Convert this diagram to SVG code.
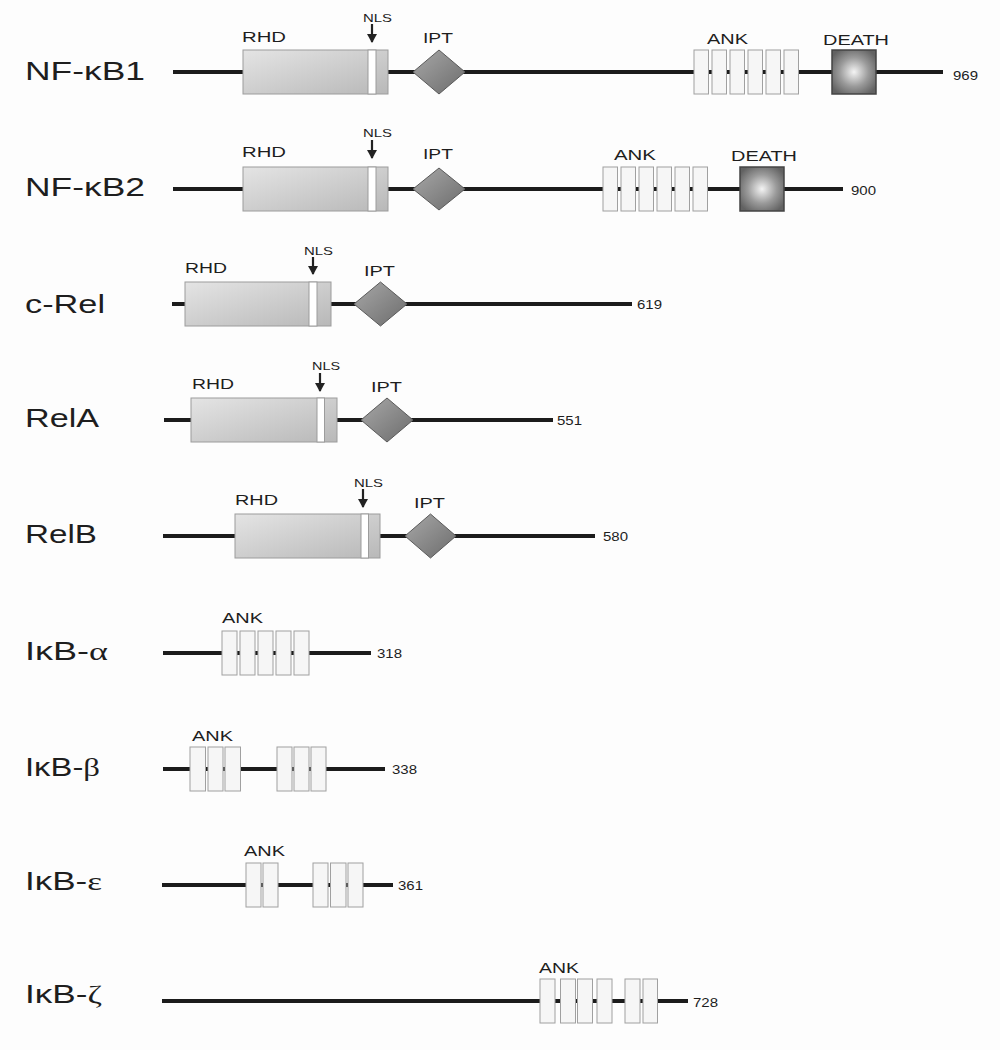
<svg xmlns="http://www.w3.org/2000/svg" width="1000" height="1050" viewBox="0 0 1000 1050">
<defs>
<linearGradient id="gRHD" x1="0" y1="0" x2="1" y2="1">
<stop offset="0" stop-color="#e4e4e4"/><stop offset="1" stop-color="#b8b8b8"/>
</linearGradient>
<linearGradient id="gIPT" x1="0" y1="0" x2="1" y2="1">
<stop offset="0" stop-color="#a8a8a8"/><stop offset="1" stop-color="#6c6c6c"/>
</linearGradient>
<radialGradient id="gDEATH" cx="0.5" cy="0.5" r="0.6">
<stop offset="0" stop-color="#f4f4f4"/><stop offset="0.55" stop-color="#9a9a9a"/><stop offset="1" stop-color="#626262"/>
</radialGradient>
<marker id="arrDown" markerUnits="userSpaceOnUse" markerWidth="10" markerHeight="10" refX="5" refY="9" orient="0" viewBox="0 0 10 10">
<path d="M0,1 L10,1 L5,10 Z" fill="#222"/>
</marker>
</defs>
<style>
.bb{stroke:#1c1c1c;stroke-width:4;fill:none}
.rhd{fill:url(#gRHD);stroke:#9c9c9c;stroke-width:1}
.nls{fill:#ffffff;stroke:#9c9c9c;stroke-width:1}
.ipt{fill:url(#gIPT);stroke:#5a5a5a;stroke-width:1}
.ank{fill:#f6f6f6;stroke:#a0a0a0;stroke-width:1}
.death{fill:url(#gDEATH);stroke:#444;stroke-width:1.5}
.arrow{stroke:#222;stroke-width:2.2;fill:none;marker-end:url(#arrDown)}
.name{font-family:"Liberation Sans",Arial,sans-serif;font-size:26px;fill:#1e1e1e}
.greek{font-family:"Liberation Serif","Times New Roman",serif}
.dom{font-family:"Liberation Sans",Arial,sans-serif;font-size:15px;fill:#1e1e1e}
.sm{font-family:"Liberation Sans",Arial,sans-serif;font-size:11.5px;fill:#1e1e1e}
.num{font-family:"Liberation Sans",Arial,sans-serif;font-size:13px;fill:#1e1e1e}
</style>
<rect x="0" y="0" width="1000" height="1050" fill="#fdfdfd"/>

<g id="backbones">
<line class="bb" x1="173" y1="72" x2="943" y2="72"/>
<line class="bb" x1="173" y1="189" x2="843" y2="189"/>
<line class="bb" x1="172" y1="304" x2="632" y2="304"/>
<line class="bb" x1="164" y1="420" x2="553" y2="420"/>
<line class="bb" x1="163" y1="536" x2="595" y2="536"/>
<line class="bb" x1="163" y1="653" x2="371" y2="653"/>
<line class="bb" x1="163" y1="769" x2="385" y2="769"/>
<line class="bb" x1="162" y1="885" x2="393" y2="885"/>
<line class="bb" x1="162" y1="1001" x2="688" y2="1001"/>
</g>

<g id="NF-kB1">
<text class="name" x="25" y="80" textLength="120" lengthAdjust="spacingAndGlyphs">NF-κB1</text>
<rect class="rhd" x="243" y="50" width="145" height="44"/>
<rect class="nls" x="368" y="50" width="8" height="44"/>
<text class="dom" x="242" y="42" textLength="44" lengthAdjust="spacingAndGlyphs">RHD</text>
<text class="sm" x="363" y="22" textLength="29" lengthAdjust="spacingAndGlyphs">NLS</text>
<line class="arrow" x1="372" y1="24" x2="372" y2="42"/>
<polygon class="ipt" points="413,72 439,50 465,72 439,94"/>
<text class="dom" x="423" y="43" textLength="30" lengthAdjust="spacingAndGlyphs">IPT</text>
<rect class="ank" x="694" y="50" width="14.5" height="44"/>
<rect class="ank" x="712" y="50" width="14.5" height="44"/>
<rect class="ank" x="730" y="50" width="14.5" height="44"/>
<rect class="ank" x="748" y="50" width="14.5" height="44"/>
<rect class="ank" x="766" y="50" width="14.5" height="44"/>
<rect class="ank" x="784" y="50" width="14.5" height="44"/>
<text class="dom" x="707" y="44" textLength="41" lengthAdjust="spacingAndGlyphs">ANK</text>
<rect class="death" x="832" y="50" width="44" height="44"/>
<text class="dom" x="823" y="45" textLength="66" lengthAdjust="spacingAndGlyphs">DEATH</text>
<text class="num" x="953" y="80" textLength="25" lengthAdjust="spacingAndGlyphs">969</text>
</g>

<g id="NF-kB2">
<text class="name" x="25" y="196" textLength="120" lengthAdjust="spacingAndGlyphs">NF-κB2</text>
<rect class="rhd" x="243" y="167" width="145" height="44"/>
<rect class="nls" x="368" y="167" width="8" height="44"/>
<text class="dom" x="242" y="157" textLength="44" lengthAdjust="spacingAndGlyphs">RHD</text>
<text class="sm" x="363" y="137" textLength="29" lengthAdjust="spacingAndGlyphs">NLS</text>
<line class="arrow" x1="372" y1="140" x2="372" y2="158"/>
<polygon class="ipt" points="413,189 439,168 465,189 439,210"/>
<text class="dom" x="423" y="159" textLength="30" lengthAdjust="spacingAndGlyphs">IPT</text>
<rect class="ank" x="603" y="167" width="14.5" height="44"/>
<rect class="ank" x="621" y="167" width="14.5" height="44"/>
<rect class="ank" x="639" y="167" width="14.5" height="44"/>
<rect class="ank" x="657" y="167" width="14.5" height="44"/>
<rect class="ank" x="675" y="167" width="14.5" height="44"/>
<rect class="ank" x="693" y="167" width="14.5" height="44"/>
<text class="dom" x="614" y="160" textLength="42" lengthAdjust="spacingAndGlyphs">ANK</text>
<rect class="death" x="740" y="167" width="44" height="44"/>
<text class="dom" x="731" y="161" textLength="66" lengthAdjust="spacingAndGlyphs">DEATH</text>
<text class="num" x="851" y="195" textLength="25" lengthAdjust="spacingAndGlyphs">900</text>
</g>

<g id="c-Rel">
<text class="name" x="25" y="313" textLength="80" lengthAdjust="spacingAndGlyphs">c-Rel</text>
<rect class="rhd" x="185" y="282" width="146" height="44"/>
<rect class="nls" x="309" y="282" width="8" height="44"/>
<text class="dom" x="185" y="273" textLength="42" lengthAdjust="spacingAndGlyphs">RHD</text>
<text class="sm" x="304" y="255" textLength="29" lengthAdjust="spacingAndGlyphs">NLS</text>
<line class="arrow" x1="313" y1="257" x2="313" y2="274"/>
<polygon class="ipt" points="354,304 380.5,282 407,304 380.5,326"/>
<text class="dom" x="364" y="276" textLength="31" lengthAdjust="spacingAndGlyphs">IPT</text>
<text class="num" x="637" y="309" textLength="25" lengthAdjust="spacingAndGlyphs">619</text>
</g>

<g id="RelA">
<text class="name" x="25" y="427" textLength="74" lengthAdjust="spacingAndGlyphs">RelA</text>
<rect class="rhd" x="191" y="398" width="146" height="44"/>
<rect class="nls" x="317" y="398" width="7.5" height="44"/>
<text class="dom" x="192" y="389" textLength="42" lengthAdjust="spacingAndGlyphs">RHD</text>
<text class="sm" x="312" y="370" textLength="28" lengthAdjust="spacingAndGlyphs">NLS</text>
<line class="arrow" x1="320" y1="373" x2="320" y2="391"/>
<polygon class="ipt" points="361,420 387,398 413,420 387,442"/>
<text class="dom" x="371" y="392" textLength="31" lengthAdjust="spacingAndGlyphs">IPT</text>
<text class="num" x="557" y="425" textLength="25" lengthAdjust="spacingAndGlyphs">551</text>
</g>

<g id="RelB">
<text class="name" x="25" y="543" textLength="72" lengthAdjust="spacingAndGlyphs">RelB</text>
<rect class="rhd" x="235" y="514" width="145" height="44"/>
<rect class="nls" x="361" y="514" width="7.5" height="44"/>
<text class="dom" x="235" y="505" textLength="43" lengthAdjust="spacingAndGlyphs">RHD</text>
<text class="sm" x="354" y="487" textLength="29" lengthAdjust="spacingAndGlyphs">NLS</text>
<line class="arrow" x1="363" y1="489" x2="363" y2="507"/>
<polygon class="ipt" points="405,536 430.5,514 456,536 430.5,558"/>
<text class="dom" x="414" y="508" textLength="31" lengthAdjust="spacingAndGlyphs">IPT</text>
<text class="num" x="603" y="541" textLength="25" lengthAdjust="spacingAndGlyphs">580</text>
</g>

<g id="IkB-alpha">
<text class="name" x="25" y="660" textLength="83" lengthAdjust="spacingAndGlyphs">IκB-<tspan class="greek">α</tspan></text>
<rect class="ank" x="222" y="631" width="15" height="44"/>
<rect class="ank" x="240" y="631" width="15" height="44"/>
<rect class="ank" x="258" y="631" width="15" height="44"/>
<rect class="ank" x="276" y="631" width="15" height="44"/>
<rect class="ank" x="294" y="631" width="15" height="44"/>
<text class="dom" x="222" y="623" textLength="41" lengthAdjust="spacingAndGlyphs">ANK</text>
<text class="num" x="377" y="658" textLength="25" lengthAdjust="spacingAndGlyphs">318</text>
</g>

<g id="IkB-beta">
<text class="name" x="25" y="776" textLength="75" lengthAdjust="spacingAndGlyphs">IκB-<tspan class="greek">β</tspan></text>
<rect class="ank" x="190" y="747" width="15.5" height="44"/>
<rect class="ank" x="208" y="747" width="15" height="44"/>
<rect class="ank" x="225" y="747" width="15.5" height="44"/>
<rect class="ank" x="277" y="747" width="15" height="44"/>
<rect class="ank" x="294" y="747" width="15" height="44"/>
<rect class="ank" x="311" y="747" width="15" height="44"/>
<text class="dom" x="192" y="741" textLength="41" lengthAdjust="spacingAndGlyphs">ANK</text>
<text class="num" x="392" y="774" textLength="25" lengthAdjust="spacingAndGlyphs">338</text>
</g>

<g id="IkB-epsilon">
<text class="name" x="25" y="890" textLength="77" lengthAdjust="spacingAndGlyphs">IκB-<tspan class="greek">ε</tspan></text>
<rect class="ank" x="246" y="863" width="15" height="44"/>
<rect class="ank" x="263" y="863" width="15" height="44"/>
<rect class="ank" x="313" y="863" width="15" height="44"/>
<rect class="ank" x="330.5" y="863" width="15.5" height="44"/>
<rect class="ank" x="348" y="863" width="15" height="44"/>
<text class="dom" x="244" y="856" textLength="41" lengthAdjust="spacingAndGlyphs">ANK</text>
<text class="num" x="398" y="890" textLength="25" lengthAdjust="spacingAndGlyphs">361</text>
</g>

<g id="IkB-zeta">
<text class="name" x="25" y="1003" textLength="77" lengthAdjust="spacingAndGlyphs">IκB-<tspan class="greek">ζ</tspan></text>
<rect class="ank" x="540" y="979" width="15" height="44"/>
<rect class="ank" x="560.5" y="979" width="15" height="44"/>
<rect class="ank" x="577.5" y="979" width="15" height="44"/>
<rect class="ank" x="597" y="979" width="15" height="44"/>
<rect class="ank" x="625" y="979" width="15" height="44"/>
<rect class="ank" x="643" y="979" width="14.5" height="44"/>
<text class="dom" x="539" y="973" textLength="40" lengthAdjust="spacingAndGlyphs">ANK</text>
<text class="num" x="693" y="1007" textLength="25" lengthAdjust="spacingAndGlyphs">728</text>
</g>
</svg>
